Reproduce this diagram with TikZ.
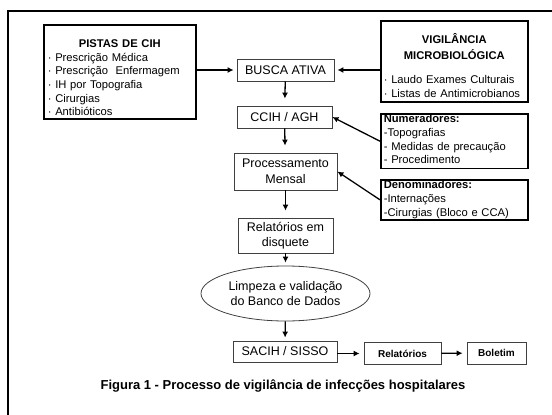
\documentclass[tikz,border=0pt]{standalone}
\usepackage{fontspec}
\setmainfont{Liberation Sans}
\usetikzlibrary{arrows.meta,shapes.geometric}

\begin{document}
\begin{tikzpicture}[x=1pt,y=-1pt,line width=0.4pt,
  flowbox/.style={draw=black!75,line width=0.8pt,font=\ftwelve,align=center,inner sep=1pt},
  infobox/.style={draw=black,line width=1.6pt,align=left,anchor=north west,inner xsep=3pt,inner ysep=0.8pt},
  flowarrow/.style={-{Latex[length=6pt,width=6pt]},line width=1.3pt}]
\providecommand{\ftwelve}{\fontsize{12.5}{15.5}\selectfont}
\providecommand{\feleven}{\fontsize{11.2}{13.7}\selectfont}
\providecommand{\ften}{\fontsize{10}{12}\selectfont}
\useasboundingbox (0,0) rectangle (552,415);
\draw[line width=1.5pt] (8,415) -- (8,11) -- (552,11);
% side boxes
\node[infobox,font=\feleven,text width=144pt,inner xsep=4pt,inner ysep=2pt,minimum height=94pt] (pistas) at (43,24)
  {\makebox[\hsize]{\bfseries\rule{0pt}{20pt}PISTAS DE CIH}\\
   · Prescrição Médica\\
   · Prescrição\ \ Enfermagem\\
   · IH por Topografia\\
   · Cirurgias\\
   · Antibióticos};
\node[infobox,font=\feleven,text width=141pt,inner xsep=3pt,inner ysep=2pt,minimum height=81pt] (vig) at (380,20)
  {\makebox[\hsize]{\bfseries\rule{0pt}{18pt}VIGILÂNCIA}\\[2.4pt]
   \makebox[\hsize]{\bfseries MICROBIOLÓGICA}\\[10.4pt]
   · Laudo Exames Culturais\\
   · Listas de Antimicrobianos};
\node[infobox,font=\feleven,text width=141pt] (num) at (380,113)
  {\textbf{Numeradores:}\\
   -Topografias\\
   - Medidas de precaução\\
   - Procedimento\rule[-4pt]{0pt}{4pt}};
\node[infobox,font=\feleven,text width=141pt] (den) at (380,179)
  {\textbf{Denominadores:}\\
   -Internações\\
   -Cirurgias (Bloco e CCA)\rule[-3pt]{0pt}{3pt}};
% main flow
\node[flowbox,minimum width=97pt,minimum height=22pt] (busca) at (285.5,70) {BUSCA ATIVA};
\node[flowbox,minimum width=95pt,minimum height=22pt] (ccih) at (284.5,117) {CCIH / AGH};
\node[flowbox,minimum width=103pt,minimum height=37pt] (proc) at (285.5,171.5) {Processamento\\Mensal};
\node[flowbox,minimum width=95pt,minimum height=35pt] (rel) at (285.5,235.5) {Relatórios em\\disquete};
\node[flowbox,ellipse,minimum width=169pt,minimum height=55pt,inner sep=0pt] (limpeza) at (285.5,293.5) {Limpeza e validação\\do Banco de Dados};
\node[flowbox,minimum width=104pt,minimum height=21pt] (sacih) at (285,351.5) {SACIH / SISSO};
\node[flowbox,font=\ften\bfseries,minimum width=77pt,minimum height=22pt] (relat) at (402.5,353.5) {Relatórios};
\node[flowbox,font=\ften\bfseries,minimum width=59pt,minimum height=22pt] (boletim) at (496.5,353) {Boletim};
\node[font=\fontsize{13}{15}\selectfont\bfseries] (legenda) at (283,386) {Figura 1 - Processo de vigilância de infecções hospitalares};
% connectors
\draw[flowarrow,shorten >=3pt] (pistas.east |- busca.west) -- (busca.west);
\draw[flowarrow,shorten >=3pt] (vig.west |- busca.east) -- (busca.east);
\draw[flowarrow,shorten >=7pt] (busca) -- (ccih);
\draw[flowarrow,shorten >=7pt] (ccih) -- (proc);
\draw[flowarrow,shorten >=7pt] (proc) -- (rel);
\draw[flowarrow,shorten >=3pt] (rel) -- (limpeza);
\draw[flowarrow,shorten >=3pt] (limpeza) -- (sacih);
\draw[flowarrow] (num.west) -- (ccih.east);
\draw[flowarrow] (den.west) -- (proc.east);
\draw[flowarrow,shorten >=4pt] (sacih.east |- relat.west) -- (relat.west);
\draw[flowarrow,shorten >=4pt] (relat) -- (boletim);
\end{tikzpicture}
\end{document}
